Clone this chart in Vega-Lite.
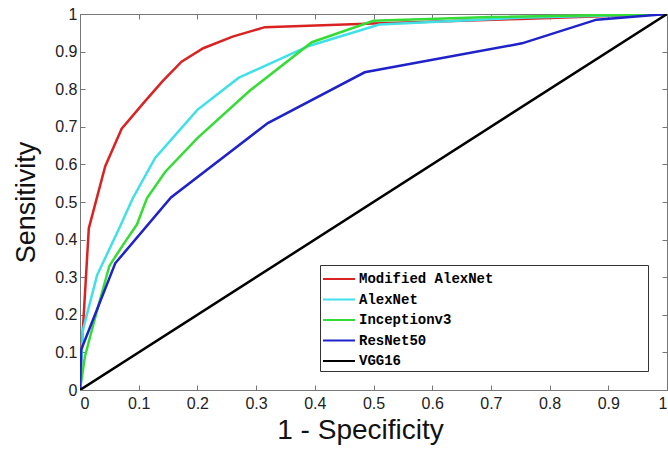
{
  "$schema": "https://vega.github.io/schema/vega-lite/v6.json",
  "autosize": "none",
  "padding": {"left": 80, "top": 14, "right": 1, "bottom": 59},
  "width": 587,
  "height": 376,
  "background": "white",
  "config": {
    "view": {"stroke": "#777", "strokeWidth": 1},
    "axis": {"grid": false, "domainColor": "#777", "tickColor": "#777", "labelFont": "Liberation Sans", "labelFontSize": 16, "labelColor": "#222", "titleFont": "Liberation Sans", "titleFontWeight": "normal", "titleFontSize": 27, "titleColor": "#111"}
  },
  "data": {"values": [
    {"model": "Modified AlexNet", "fpr": 0, "tpr": 0},
    {"model": "Modified AlexNet", "fpr": 0.003, "tpr": 0.11},
    {"model": "Modified AlexNet", "fpr": 0.015, "tpr": 0.43},
    {"model": "Modified AlexNet", "fpr": 0.043, "tpr": 0.595},
    {"model": "Modified AlexNet", "fpr": 0.071, "tpr": 0.695},
    {"model": "Modified AlexNet", "fpr": 0.108, "tpr": 0.763},
    {"model": "Modified AlexNet", "fpr": 0.14, "tpr": 0.82},
    {"model": "Modified AlexNet", "fpr": 0.173, "tpr": 0.873},
    {"model": "Modified AlexNet", "fpr": 0.21, "tpr": 0.909},
    {"model": "Modified AlexNet", "fpr": 0.26, "tpr": 0.94},
    {"model": "Modified AlexNet", "fpr": 0.315, "tpr": 0.965},
    {"model": "Modified AlexNet", "fpr": 0.5, "tpr": 0.975},
    {"model": "Modified AlexNet", "fpr": 0.75, "tpr": 0.987},
    {"model": "Modified AlexNet", "fpr": 1, "tpr": 1},
    {"model": "AlexNet", "fpr": 0, "tpr": 0},
    {"model": "AlexNet", "fpr": 0.005, "tpr": 0.16},
    {"model": "AlexNet", "fpr": 0.029, "tpr": 0.305},
    {"model": "AlexNet", "fpr": 0.068, "tpr": 0.434},
    {"model": "AlexNet", "fpr": 0.09, "tpr": 0.51},
    {"model": "AlexNet", "fpr": 0.128, "tpr": 0.617},
    {"model": "AlexNet", "fpr": 0.2, "tpr": 0.745},
    {"model": "AlexNet", "fpr": 0.27, "tpr": 0.83},
    {"model": "AlexNet", "fpr": 0.39, "tpr": 0.915},
    {"model": "AlexNet", "fpr": 0.51, "tpr": 0.972},
    {"model": "AlexNet", "fpr": 0.75, "tpr": 0.99},
    {"model": "AlexNet", "fpr": 1, "tpr": 1},
    {"model": "Inceptionv3", "fpr": 0, "tpr": 0},
    {"model": "Inceptionv3", "fpr": 0.0085, "tpr": 0.09},
    {"model": "Inceptionv3", "fpr": 0.028, "tpr": 0.205},
    {"model": "Inceptionv3", "fpr": 0.05, "tpr": 0.33},
    {"model": "Inceptionv3", "fpr": 0.075, "tpr": 0.39},
    {"model": "Inceptionv3", "fpr": 0.097, "tpr": 0.44},
    {"model": "Inceptionv3", "fpr": 0.114, "tpr": 0.51},
    {"model": "Inceptionv3", "fpr": 0.145, "tpr": 0.58},
    {"model": "Inceptionv3", "fpr": 0.2, "tpr": 0.67},
    {"model": "Inceptionv3", "fpr": 0.29, "tpr": 0.797},
    {"model": "Inceptionv3", "fpr": 0.395, "tpr": 0.925},
    {"model": "Inceptionv3", "fpr": 0.5, "tpr": 0.982},
    {"model": "Inceptionv3", "fpr": 0.7, "tpr": 0.992},
    {"model": "Inceptionv3", "fpr": 1, "tpr": 1},
    {"model": "ResNet50", "fpr": 0, "tpr": 0},
    {"model": "ResNet50", "fpr": 0.002, "tpr": 0.107},
    {"model": "ResNet50", "fpr": 0.06, "tpr": 0.337},
    {"model": "ResNet50", "fpr": 0.155, "tpr": 0.512},
    {"model": "ResNet50", "fpr": 0.32, "tpr": 0.71},
    {"model": "ResNet50", "fpr": 0.485, "tpr": 0.845},
    {"model": "ResNet50", "fpr": 0.753, "tpr": 0.922},
    {"model": "ResNet50", "fpr": 0.88, "tpr": 0.985},
    {"model": "ResNet50", "fpr": 1, "tpr": 1},
    {"model": "VGG16", "fpr": 0, "tpr": 0},
    {"model": "VGG16", "fpr": 1, "tpr": 1}
  ]},
  "layer": [
    {
      "mark": {"type": "line", "strokeWidth": 2.5, "clip": true},
      "encoding": {
        "x": {"field": "fpr", "type": "quantitative", "scale": {"domain": [0, 1], "nice": false},
          "axis": {"orient": "bottom", "values": [0, 0.1, 0.2, 0.3, 0.4, 0.5, 0.6, 0.7, 0.8, 0.9, 1], "format": "~g", "tickSize": -5, "labelPadding": 10, "title": "1 - Specificity", "titlePadding": 5, "titleFontSize": 28, "titleX": 280}},
        "y": {"field": "tpr", "type": "quantitative", "scale": {"domain": [0, 1], "nice": false},
          "axis": {"orient": "left", "values": [0, 0.1, 0.2, 0.3, 0.4, 0.5, 0.6, 0.7, 0.8, 0.9, 1], "format": "~g", "tickSize": -5, "labelPadding": 8, "title": "Sensitivity", "titlePadding": 14}},
        "color": {"field": "model", "type": "nominal",
          "scale": {"domain": ["Modified AlexNet", "AlexNet", "Inceptionv3", "ResNet50", "VGG16"], "range": ["#d92323", "#3fe0e8", "#36dc36", "#1f22c8", "#000000"]},
          "legend": {"title": null, "orient": "none", "legendX": 240, "legendY": 251, "direction": "vertical",
            "strokeColor": "#333", "fillColor": "white", "padding": 3,
            "symbolType": "M-1.6,0H1.6", "symbolSize": 400, "symbolStrokeWidth": 2, "symbolOffset": 5,
            "labelFont": "Liberation Mono", "labelFontWeight": "bold", "labelFontSize": 14, "labelColor": "#000", "labelOffset": 9, "rowPadding": 2.5,
            "labelExpr": "pad(datum.label, 34, '\u00a0') + '\u200b'", "labelLimit": 400}}
      }
    },
    {
      "mark": {"type": "line", "opacity": 0},
      "encoding": {
        "x": {"field": "fpr", "type": "quantitative", "scale": {"domain": [0, 1], "nice": false},
          "axis": {"orient": "top", "values": [0, 0.1, 0.2, 0.3, 0.4, 0.5, 0.6, 0.7, 0.8, 0.9, 1], "labels": false, "tickSize": -5, "title": null}},
        "y": {"field": "tpr", "type": "quantitative", "scale": {"domain": [0, 1], "nice": false},
          "axis": {"orient": "right", "values": [0, 0.1, 0.2, 0.3, 0.4, 0.5, 0.6, 0.7, 0.8, 0.9, 1], "labels": false, "tickSize": -5, "title": null}},
        "detail": {"field": "model"}
      }
    }
  ],
  "resolve": {"axis": {"x": "independent", "y": "independent"}}
}
